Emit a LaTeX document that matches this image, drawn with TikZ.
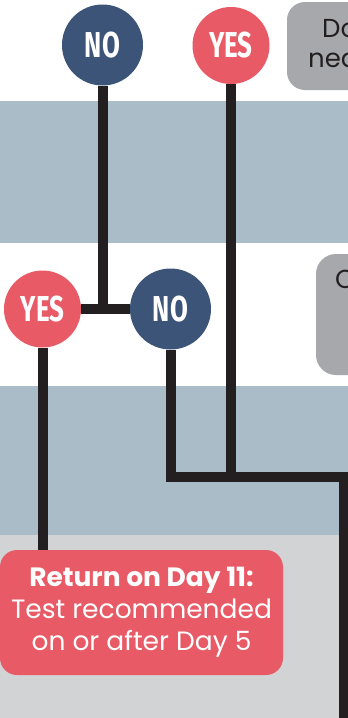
\documentclass[tikz,border=0pt]{standalone}
\usepackage{fontspec}
\setmainfont{Poppins}
\newfontfamily\condfont[FakeStretch=0.72]{Fira Sans}
\usetikzlibrary{positioning,backgrounds}
\definecolor{navy}{HTML}{3C5478}
\definecolor{coral}{HTML}{E85B66}
\definecolor{band}{HTML}{AABCC8}
\definecolor{paper}{HTML}{D1D3D5}
\definecolor{pill}{HTML}{A7A8AB}
\definecolor{ink}{HTML}{231F20}

\begin{document}
\begin{tikzpicture}[x=1pt,y=-1pt,
 circ/.style={circle,inner sep=0pt,text=white,font=\condfont\bfseries\fontsize{36}{36}\selectfont},
 nocirc/.style={circ,fill=navy,minimum size=81pt},
 yescirc/.style={circ,fill=coral,minimum size=77pt},
 wire/.style={ink,line width=10pt,line join=miter},
 notetext/.style={anchor=base west,inner sep=0pt,text=ink,font=\fontsize{26}{30}\selectfont},
 retbox/.style={fill=coral,rounded corners=17pt,text=white,align=center,minimum width=283pt,minimum height=125pt,inner sep=0pt,font=\fontsize{26.5}{32}\selectfont}]
\useasboundingbox (0,0) rectangle (348,718);
\clip (0,0) rectangle (348,718);
% answers, top row and middle row
\node[nocirc] (no1) at (102.5,45) {NO};
\node[yescirc] (yes1) at (231,45.5) {YES};
\node[yescirc] (yes2) at (42.5,309) {YES};
\node[nocirc] (no2) at (170.5,309) {NO};
\node[retbox] (ret) at (141.5,612.5) {\textbf{Return on Day 11:}\\Test recommended\\on or after Day 5};
% questions on the right, cut by the page edge
\fill[pill,rounded corners=18pt] (287,2) rectangle (420,90);
\node[notetext] (q1a) at (322,37) {Do};
\node[notetext] (q1b) at (308,67) {nea};
\fill[pill,rounded corners=20pt] (316,254) rectangle (420,375);
\node[notetext] (q2a) at (335,288) {C};
\coordinate (turn) at (343.5,476.5);
\coordinate (out) at (343.5,730);
\begin{scope}[on background layer]
 \fill[white] (0,0) rectangle (348,101);
 \fill[band] (0,101) rectangle (348,243);
 \fill[white] (0,243) rectangle (348,386);
 \fill[band] (0,386) rectangle (348,535);
 \fill[paper] (0,535) rectangle (348,718);
 \draw[wire] (no1) -- (no1 |- yes2);
 \draw[wire] (yes2) -- (no2);
 \draw[wire] (yes1) -- (yes1 |- turn);
 \draw[wire] (no2) |- (turn) -- (out);
 \draw[wire] (yes2) -- (yes2 |- ret.north);
\end{scope}
\end{tikzpicture}
\end{document}
